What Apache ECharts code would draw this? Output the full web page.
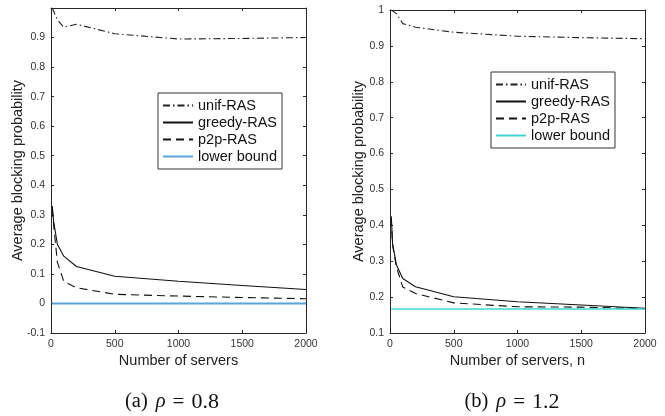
<!DOCTYPE html>
<html>
<head>
<meta charset="utf-8">
<script src="https://cdn.jsdelivr.net/npm/echarts@6/dist/echarts.min.js"></script>
<style>
html,body{margin:0;padding:0;background:#fff;}
#c{width:665px;height:416px;}
</style>
</head>
<body>
<div id="c"></div>
<script>
// Number of servers (x values shared by all curves)
const servers = [10, 20, 50, 100, 200, 500, 1000, 1500, 2000];

// (a) rho = 0.8
const unifA   = [1.0, 0.99, 0.96, 0.935, 0.945, 0.913, 0.895, 0.897, 0.9];
const greedyA = [0.33, 0.28, 0.2, 0.16, 0.125, 0.092, 0.075, 0.061, 0.047];
const p2pA    = [0.32, 0.27, 0.14, 0.075, 0.053, 0.031, 0.025, 0.02, 0.016];
const lowerA  = [0, 0, 0, 0, 0, 0, 0, 0, 0];

// (b) rho = 1.2
const unifB   = [1.0, 0.998, 0.99, 0.962, 0.952, 0.938, 0.927, 0.923, 0.92];
const greedyB = [0.425, 0.35, 0.29, 0.252, 0.229, 0.201, 0.187, 0.178, 0.169];
const p2pB    = [0.42, 0.345, 0.285, 0.228, 0.21, 0.184, 0.173, 0.172, 0.168];
const lowerB  = [0.1667, 0.1667, 0.1667, 0.1667, 0.1667, 0.1667, 0.1667, 0.1667, 0.1667];

const xTicks = { min: 0, max: 2000, interval: 500 };
const yTicksA = { min: -0.1, max: 1, interval: 0.1 };
const yTicksB = { min: 0.1, max: 1, interval: 0.1 };

const seriesNames = ['unif-RAS', 'greedy-RAS', 'p2p-RAS', 'lower bound'];
const captionA = ['(a)', 'ρ', '=', '0.8'];
const captionB = ['(b)', 'ρ', '=', '1.2'];
const xNameA = 'Number of servers';
const xNameB = 'Number of servers, n';
const yName = 'Average blocking probability';

const pair = (ys) => servers.map((n, i) => [n, ys[i]]);

const FONT = 'Liberation Sans, Arial, Helvetica, sans-serif';
const AX = '#262626';

function xAx(grid, pos, name) {
  return {
    type: 'value', gridIndex: grid, position: pos,
    min: xTicks.min, max: xTicks.max, interval: xTicks.interval,
    name: name || '', nameLocation: 'middle', nameGap: 20, nameMoveOverlap: false,
    nameTextStyle: { fontSize: 14.5, color: '#222', fontFamily: FONT },
    axisLine: { show: true, onZero: false, lineStyle: { color: AX, width: 1 } },
    axisTick: { show: true, inside: true, length: 3, lineStyle: { color: AX } },
    axisLabel: { show: pos === 'bottom', fontSize: 10.5, color: '#333', margin: 6, fontFamily: FONT,
      formatter: v => String(v) },
    splitLine: { show: false }
  };
}
function yAx(grid, pos, t, name, gap, showMax) {
  return {
    type: 'value', gridIndex: grid, position: pos,
    min: t.min, max: t.max, interval: t.interval,
    name: name || '', nameLocation: 'middle', nameGap: gap, nameMoveOverlap: false,
    nameTextStyle: { fontSize: 14.5, color: '#222', fontFamily: FONT },
    axisLine: { show: true, onZero: false, lineStyle: { color: AX, width: 1 } },
    axisTick: { show: true, inside: true, length: 3, lineStyle: { color: AX } },
    axisLabel: { show: pos === 'left', showMaxLabel: showMax, fontSize: 10.5, color: '#333', margin: 6, fontFamily: FONT,
      formatter: v => String(Math.round(v * 10) / 10) },
    splitLine: { show: false }
  };
}

const dashDot = [7, 3, 1.5, 3];
function mk(name, data, xi, yi, style) {
  return Object.assign({
    name: name, type: 'line', xAxisIndex: xi, yAxisIndex: yi,
    data: pair(data), symbol: 'none', smooth: false, animation: false, clip: true
  }, style);
}
const sUnif = { lineStyle: { color: '#222', width: 1.1, type: dashDot }, itemStyle: { color: '#222' } };
const sGreedy = { lineStyle: { color: '#111', width: 1.1, type: 'solid' }, itemStyle: { color: '#111' } };
const sP2p = { lineStyle: { color: '#111', width: 1.1, type: [8, 5] }, itemStyle: { color: '#111' } };
const sLowA = { lineStyle: { color: '#5ca3da', width: 2, type: 'solid' }, itemStyle: { color: '#5ca3da' } };
const sLowB = { lineStyle: { color: '#3fd3d3', width: 1.5, type: 'solid' }, itemStyle: { color: '#3fd3d3' } };

const SUF = ' (b)';
function legend(left, top, names) {
  return {
    orient: 'vertical', left: left, top: top, data: names,
    backgroundColor: '#fff', borderColor: '#333', borderWidth: 1,
    padding: [5, 5, 5, 4], itemGap: 2, itemWidth: 30, itemHeight: 16,
    selectedMode: false,
    itemStyle: { color: 'rgba(0,0,0,0)', borderWidth: 0, opacity: 0 },
    formatter: n => n.replace(SUF, ''),
    textStyle: { fontSize: 14.5, color: '#111', fontFamily: FONT }
  };
}

const SERIF = 'Liberation Serif, Times New Roman, serif';
function caption(x, parts) {
  return {
    type: 'text', x: x, y: 402,
    style: {
      text: '{n|' + parts[0] + '}{r|' + parts[1] + '}{e|' + parts[2] + '}{d|' + parts[3] + '}',
      textAlign: 'center', textVerticalAlign: 'middle',
      rich: {
        n: { fontFamily: SERIF, fontSize: 20.5, fill: '#111' },
        r: { fontFamily: SERIF, fontSize: 20.5, fontStyle: 'italic', fill: '#111', padding: [0, 7, 0, 8] },
        e: { fontFamily: SERIF, fontSize: 21, fill: '#111', padding: [0, 7, 0, 0] },
        d: { fontFamily: SERIF, fontSize: 22, fill: '#111' }
      }
    }
  };
}

const chart = echarts.init(document.getElementById('c'), null, { renderer: 'canvas' });
chart.setOption({
  animation: false,
  backgroundColor: '#fff',
  grid: [
    { left: 51, top: 8, width: 255, height: 325 },
    { left: 390, top: 10, width: 255, height: 323 }
  ],
  xAxis: [xAx(0, 'bottom', xNameA), xAx(0, 'top'), xAx(1, 'bottom', xNameB), xAx(1, 'top')],
  yAxis: [yAx(0, 'left', yTicksA, yName, 26, false), yAx(0, 'right', yTicksA),
          yAx(1, 'left', yTicksB, yName, 24, true), yAx(1, 'right', yTicksB)],
  legend: [
    legend(158, 93, seriesNames),
    legend(491, 72, seriesNames.map(n => n + SUF))
  ],
  series: [
    mk(seriesNames[0], unifA, 0, 0, sUnif),
    mk(seriesNames[1], greedyA, 0, 0, sGreedy),
    mk(seriesNames[2], p2pA, 0, 0, sP2p),
    mk(seriesNames[3], lowerA, 0, 0, sLowA),
    mk(seriesNames[0] + SUF, unifB, 2, 2, sUnif),
    mk(seriesNames[1] + SUF, greedyB, 2, 2, sGreedy),
    mk(seriesNames[2] + SUF, p2pB, 2, 2, sP2p),
    mk(seriesNames[3] + SUF, lowerB, 2, 2, sLowB)
  ],
  graphic: [caption(172, captionA), caption(512, captionB)]
});
</script>
</body>
</html>
